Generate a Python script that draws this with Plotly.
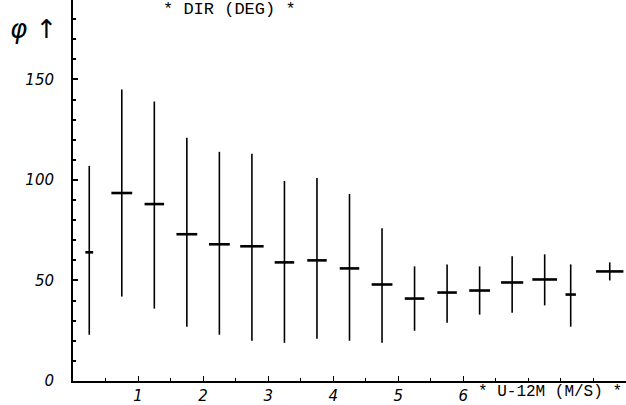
import plotly.graph_objects as go

# Bin centres of wind speed U-12M (m/s)
wind_speed = [0.25, 0.75, 1.25, 1.75, 2.25, 2.75, 3.25, 3.75, 4.25, 4.75,
              5.25, 5.75, 6.25, 6.75, 7.25, 7.65, 8.25]
# Mean direction spread (deg)
dir_mean = [64, 93.5, 88, 73, 68, 67, 59, 60, 56, 48, 41, 44, 45, 49, 50.5, 43, 54.5]
dir_high = [107, 145, 139, 121, 114, 113, 99.5, 101, 93, 76, 57, 58, 57, 62, 63, 58, 59]
dir_low = [23, 42, 36, 27, 23, 20, 19, 21, 20, 19, 25, 29, 33, 34, 37.6, 27, 50]
speed_halfwidth = [0.06, 0.16, 0.15, 0.16, 0.16, 0.18, 0.15, 0.15, 0.15, 0.16,
                   0.15, 0.15, 0.16, 0.17, 0.19, 0.08, 0.21]

x_tickvals = [1, 2, 3, 4, 5, 6]
x_ticktext = ["1", "2", "3", "4", "5", "6"]
y_tickvals = [0, 50, 100, 150]
y_ticktext = ["0", "50", "100", "150"]

err_plus = [h - m for h, m in zip(dir_high, dir_mean)]
err_minus = [m - l for m, l in zip(dir_mean, dir_low)]

fig = go.Figure()
fig.add_trace(go.Scatter(
    x=wind_speed, y=dir_mean, mode="markers",
    marker=dict(size=1, color="black", opacity=0),
    error_y=dict(type="data", symmetric=False, array=err_plus, arrayminus=err_minus,
                 color="black", thickness=1.6, width=0),
    error_x=dict(type="data", array=speed_halfwidth, color="black",
                 thickness=2.6, width=0),
    showlegend=False, hoverinfo="skip",
))

fig.update_layout(
    width=626, height=405,
    margin=dict(l=73, r=0, t=0, b=21),
    paper_bgcolor="white", plot_bgcolor="white",
    font=dict(family="DejaVu Sans", color="black"),
    xaxis=dict(range=[0, 8.5], showgrid=False, zeroline=False,
               showline=True, linecolor="black", linewidth=2,
               tickvals=x_tickvals, ticktext=x_ticktext,
               ticks="inside", ticklen=5, tickcolor="black", tickwidth=1,
               minor=dict(dtick=0.5, ticks="inside", ticklen=3, tickcolor="black"),
               tickfont=dict(size=15, family="DejaVu Sans", style="italic"),
               ticklabelstandoff=0),
    yaxis=dict(range=[0, 189.5], showgrid=False, zeroline=False,
               showline=True, linecolor="black", linewidth=2,
               tickvals=y_tickvals, ticktext=y_ticktext,
               ticks="inside", ticklen=5, tickcolor="black", tickwidth=1.5,
               minor=dict(dtick=10, ticks="inside", ticklen=3, tickcolor="black"),
               tickfont=dict(size=15, family="DejaVu Sans", style="italic"),
               ticklabelstandoff=14),
    annotations=[
        dict(text="* DIR (DEG) *", xref="paper", yref="paper",
             x=0.16, y=1.005, xanchor="left", yanchor="top", showarrow=False,
             font=dict(family="Liberation Mono", size=17, color="black")),
        dict(text="* U-12M (M/S) *", xref="paper", yref="paper",
             x=0.728, y=-0.0, xanchor="left", yanchor="top", showarrow=False,
             font=dict(family="Liberation Mono", size=16, color="black")),
        dict(text="φ ↑", xref="paper", yref="paper",
             x=-0.118, y=0.925, xanchor="left", yanchor="middle", showarrow=False,
             font=dict(family="DejaVu Sans", size=26, color="black", style="italic")),
    ],
)

fig.write_html("out.html")
